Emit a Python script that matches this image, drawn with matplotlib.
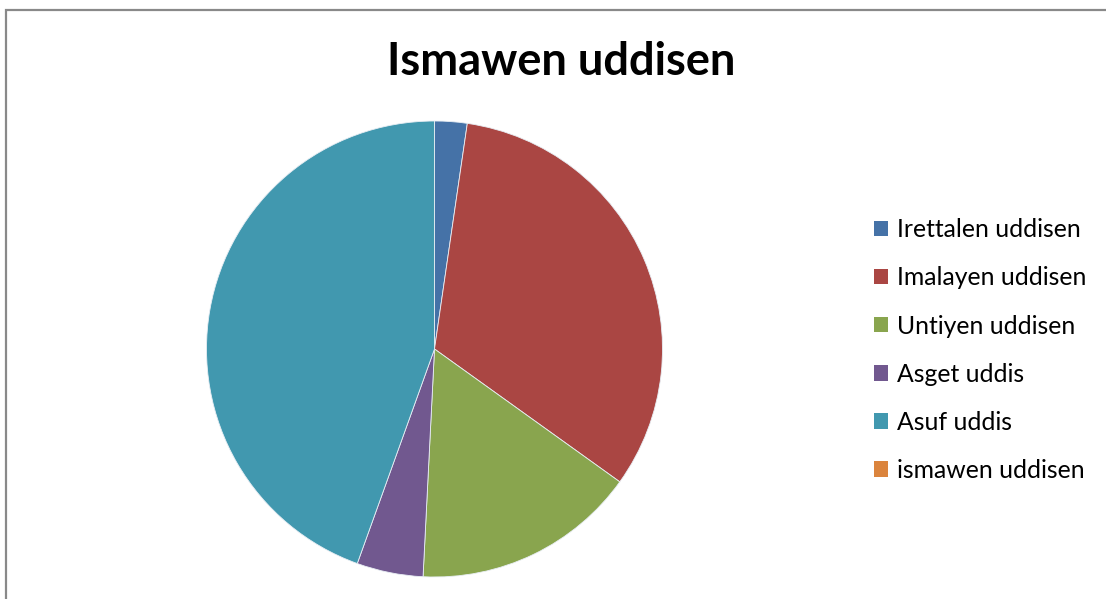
import matplotlib.pyplot as plt
from matplotlib.patches import Rectangle, Patch

# slice labels and shares (percent)
labels = ['Irettalen uddisen', 'Imalayen uddisen', 'Untiyen uddisen',
          'Asget uddis', 'Asuf uddis', 'ismawen uddisen']
shares = [2.3, 32.6, 15.9, 4.7, 44.5, 0.0]
colors = ['#4572A7', '#AA4643', '#89A54E', '#71588F', '#4198AF', '#DB843D']

W, H = 1106, 599
fig = plt.figure(figsize=(W / 100, H / 100), dpi=100)
plt.rcParams['font.family'] = ['Lato', 'DejaVu Sans']

# outer chart border (only left and top visible)
fig.patches.append(Rectangle((5.5 / W, -0.1), 2.0, (H - 9.5) / H + 0.1,
                             transform=fig.transFigure, fill=False,
                             edgecolor='#898989', linewidth=1.6))

# pie: center (434, 349), radius 228 px
cx, cy, r = 434.5, 349, 228
ax = fig.add_axes([(cx - r) / W, (H - cy - r) / H, 2 * r / W, 2 * r / H])
nonzero = [(s, c) for s, c in zip(shares, colors) if s > 0]
ax.pie([s for s, c in nonzero], colors=[c for s, c in nonzero],
       startangle=90, counterclock=False, radius=1,
       wedgeprops={'linewidth': 0.6, 'edgecolor': '#e8eef4'})
ax.set_xlim(-1, 1)
ax.set_ylim(-1, 1)
ax.set_aspect('equal')
ax.axis('off')

fig.text(561 / W, 1 - 62 / H, 'Ismawen uddisen', ha='center', va='center',
         fontsize=32.5, fontweight='bold')

handles = [Patch(facecolor=c, edgecolor='none') for c in colors]
fig.legend(handles, labels, loc='upper left',
           bbox_to_anchor=(862 / W, 1 - 206 / H), frameon=False,
           fontsize=17.8, handlelength=0.57, handleheight=0.57,
           handletextpad=0.33, labelspacing=1.015, borderpad=0)

fig.savefig('out.png', dpi=100)
